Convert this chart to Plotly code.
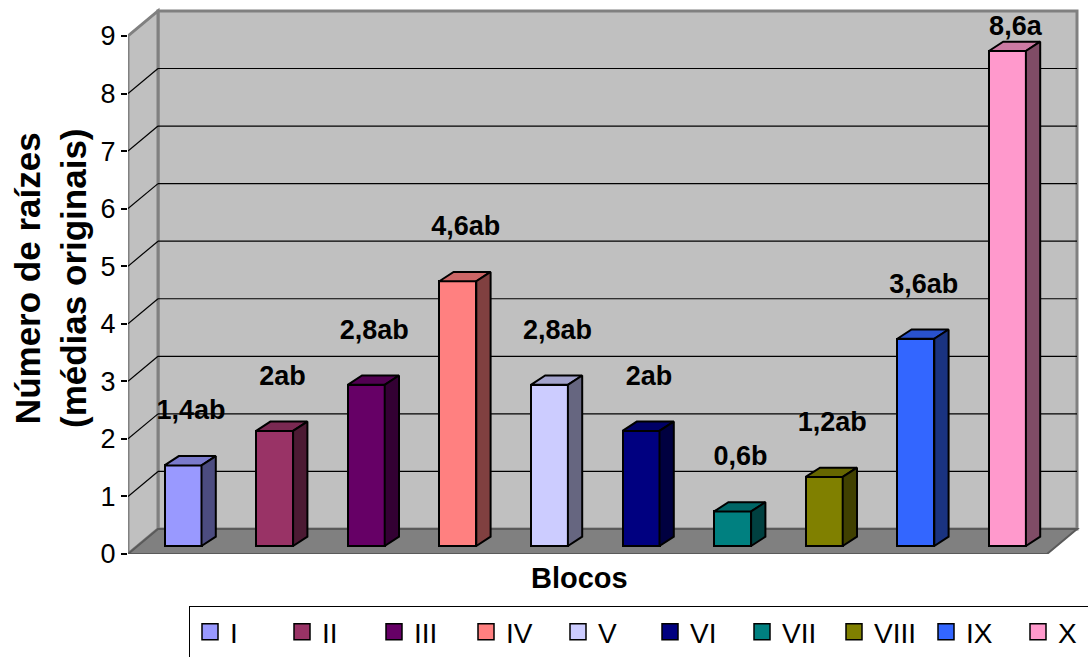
import plotly.graph_objects as go

# ---------------- data ----------------
categories = ["I", "II", "III", "IV", "V", "VI", "VII", "VIII", "IX", "X"]
values = [1.4, 2.0, 2.8, 4.6, 2.8, 2.0, 0.6, 1.2, 3.6, 8.6]
labels = ["1,4ab", "2ab", "2,8ab", "4,6ab", "2,8ab", "2ab", "0,6b", "1,2ab", "3,6ab", "8,6a"]
colors = ["#9999FF", "#993366", "#660066", "#FF8080", "#CCCCFF",
          "#000080", "#008080", "#808000", "#3366FF", "#FF99CC"]
y_ticks = [0, 1, 2, 3, 4, 5, 6, 7, 8, 9]

# ---------------- geometry (pixel-based layout) ----------------
W, H = 1088, 657
ML, MR, MT, MB = 128, 8, 6, 103
PX_X = 91.6          # pixels per category step
PX_Y = 57.56         # pixels per value unit
X_MIN = -55 / PX_X
X_MAX = X_MIN + (W - ML - MR) / PX_X
Y_MAX = (H - MT - MB) / PX_Y

WALL_TOP = 9
DX, DY = 30 / PX_X, 25 / PX_Y          # full depth offset of the walls
XL = X_MIN                             # front-left edge of floor
XR = 864 / PX_X                        # front-right edge of floor
B0 = 8 / PX_Y                          # bar base (mid depth)
HW = 18.5 / PX_X                       # half bar width
BDX, BDY = 14.3 / PX_X, 9.3 / PX_Y     # bar depth offset
LBL_DX, LBL_DY, LBL_CAP = 8 / PX_X, 0.92, 9.14

FONT = "Liberation Sans, Arial, sans-serif"


def shade(hexc, f):
    r, g, b = int(hexc[1:3], 16), int(hexc[3:5], 16), int(hexc[5:7], 16)
    return "#%02X%02X%02X" % (round(r * f), round(g * f), round(b * f))


def path(pts):
    return "M " + " L ".join(f"{x},{y}" for x, y in pts) + " Z"


shapes = []
# back wall
shapes.append(dict(type="path", xref="x", yref="y", layer="below",
                   path=path([(XL + DX, DY), (XR + DX, DY), (XR + DX, WALL_TOP + DY), (XL + DX, WALL_TOP + DY)]),
                   fillcolor="#C0C0C0", line=dict(color="#808080", width=3)))
# left wall
shapes.append(dict(type="path", xref="x", yref="y", layer="below",
                   path=path([(XL, 0), (XL, WALL_TOP), (XL + DX, WALL_TOP + DY), (XL + DX, DY)]),
                   fillcolor="#C0C0C0", line=dict(color="#808080", width=3)))
# gridlines
for v in y_ticks[1:-1]:
    shapes.append(dict(type="line", xref="x", yref="y", layer="below",
                       x0=XL, y0=v, x1=XL + DX, y1=v + DY, line=dict(color="#000000", width=1.2)))
    shapes.append(dict(type="line", xref="x", yref="y", layer="below",
                       x0=XL + DX, y0=v + DY, x1=XR + DX, y1=v + DY, line=dict(color="#000000", width=1.2)))
# floor
shapes.append(dict(type="path", xref="x", yref="y", layer="below",
                   path=path([(XL, 0), (XR, 0), (XR + DX, DY), (XL + DX, DY)]),
                   fillcolor="#808080", line=dict(color="#5A5A5A", width=2)))

fig = go.Figure()

xs = list(range(len(categories)))
# front faces
fig.add_trace(go.Bar(x=xs, y=values, base=B0, width=2 * HW,
                     marker=dict(color=colors, line=dict(color="black", width=2)),
                     showlegend=False, hoverinfo="skip"))

# top & side faces
for i, (v, c) in enumerate(zip(values, colors)):
    x0, x1 = i - HW, i + HW
    top = B0 + v
    fig.add_trace(go.Scatter(
        x=[x0, x1, x1 + BDX, x0 + BDX, x0], y=[top, top, top + BDY, top + BDY, top],
        mode="lines", fill="toself", fillcolor=shade(c, 0.8),
        line=dict(color="black", width=2), showlegend=False, hoverinfo="skip"))
    fig.add_trace(go.Scatter(
        x=[x1, x1 + BDX, x1 + BDX, x1, x1], y=[B0, B0 + BDY, top + BDY, top, B0],
        mode="lines", fill="toself", fillcolor=shade(c, 0.5),
        line=dict(color="black", width=2), showlegend=False, hoverinfo="skip"))

# data labels
fig.add_trace(go.Scatter(
    x=[i + LBL_DX for i in xs], y=[min(B0 + v + LBL_DY, LBL_CAP) for v in values],
    mode="text", text=labels, textposition="middle center",
    textfont=dict(family=FONT, size=27, color="black", weight="bold"),
    showlegend=False, hoverinfo="skip", cliponaxis=False))

# legend entries
for name, c in zip(categories, colors):
    fig.add_trace(go.Scatter(x=[None], y=[None], mode="markers", name=name,
                             marker=dict(symbol="square", size=16, color=c,
                                         line=dict(color="black", width=1.5))))

plot_w = W - ML - MR
plot_h = H - MT - MB
fig.update_layout(
    width=W, height=H,
    margin=dict(l=ML, r=MR, t=MT, b=MB, autoexpand=False),
    paper_bgcolor="white", plot_bgcolor="white",
    font=dict(family=FONT, color="black"),
    xaxis=dict(range=[X_MIN, X_MAX], visible=False, fixedrange=True),
    yaxis=dict(range=[0, Y_MAX], tickvals=y_ticks, ticktext=[str(t) for t in y_ticks],
               showgrid=False, zeroline=False, showline=False,
               ticks="outside", ticklen=6, tickwidth=1.5, tickcolor="black",
               tickfont=dict(family=FONT, size=27, color="black"), fixedrange=True),
    bargap=0,
    shapes=shapes,
    showlegend=True,
    legend=dict(orientation="h", x=(189 - ML) / plot_w, y=-(606 - (H - MB)) / plot_h,
                xanchor="left", yanchor="top", bgcolor="white",
                bordercolor="black", borderwidth=1,
                font=dict(family=FONT, size=28, color="black"),
                entrywidth=47, entrywidthmode="pixels",
                itemsizing="trace", traceorder="normal"),
    annotations=[
        dict(text="Número de raízes<br>(médias originais)", textangle=-90,
             xref="paper", yref="paper", x=(50 - ML) / plot_w, y=(H - MB - 278) / plot_h,
             xanchor="center", yanchor="middle", showarrow=False,
             font=dict(family=FONT, size=35, color="black", weight="bold")),
        dict(text="Blocos", xref="paper", yref="paper",
             x=(579 - ML) / plot_w, y=-(578 - (H - MB)) / plot_h,
             xanchor="center", yanchor="middle", showarrow=False,
             font=dict(family=FONT, size=29, color="black", weight="bold")),
    ],
)

fig.write_html("out.html")
